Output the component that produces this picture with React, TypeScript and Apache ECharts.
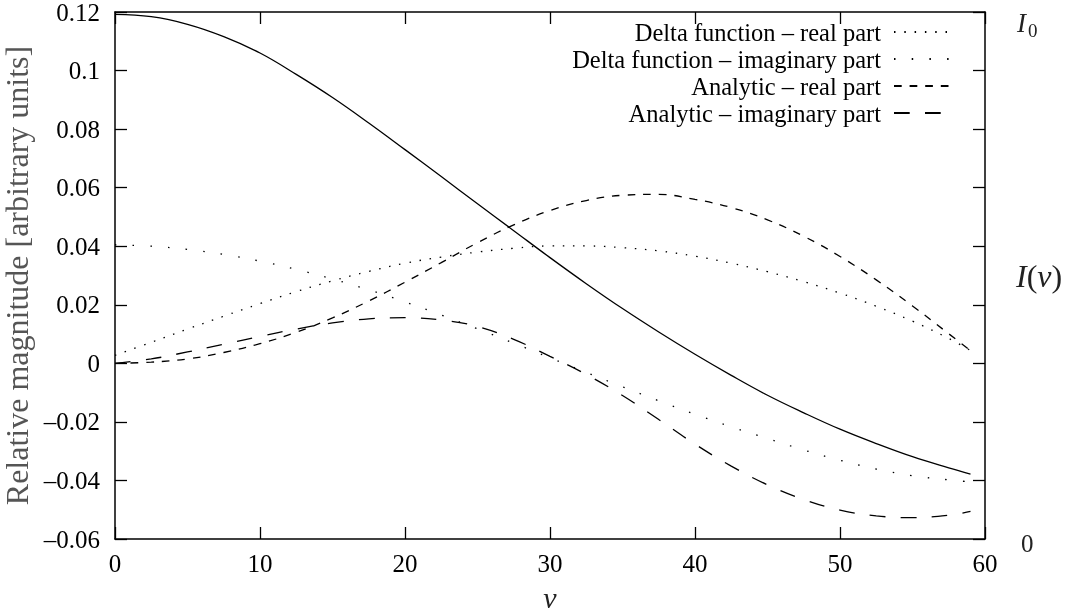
import React, { useEffect, useRef } from "react";
import * as echarts from "echarts";

// ν sample positions
const NU = [0, 2.5, 5, 7.5, 10, 12.5, 15, 17.5, 20, 22.5, 25, 27.5, 30, 32.5, 35, 37.5, 40, 42.5, 45, 47.5, 50, 52.5, 55, 57.5, 59];

// I(ν) – solid curve (drawn on left scale)
const intensity = [0.1192, 0.1184, 0.1158, 0.1116, 0.106, 0.0987, 0.0908, 0.0821, 0.073, 0.0638, 0.0545, 0.0453, 0.0361, 0.0272, 0.0187, 0.0107, 0.0031, -0.0041, -0.0109, -0.0169, -0.0225, -0.0274, -0.0319, -0.0357, -0.0378];

const deltaReal = [0.0027, 0.0072, 0.0117, 0.0161, 0.0204, 0.0245, 0.0282, 0.0314, 0.0342, 0.0363, 0.038, 0.0393, 0.0401, 0.0401, 0.0395, 0.0384, 0.0366, 0.0342, 0.0313, 0.0279, 0.024, 0.0195, 0.0144, 0.0085, 0.0044];

const deltaImag = [0.0405, 0.04, 0.0389, 0.0372, 0.0349, 0.0321, 0.0288, 0.0251, 0.021, 0.0165, 0.0118, 0.0069, 0.0019, -0.0031, -0.008, -0.0128, -0.0174, -0.0217, -0.0257, -0.0296, -0.0331, -0.0361, -0.0384, -0.0398, -0.0405];

const analyticReal = [0, 0.0004, 0.0015, 0.0037, 0.0067, 0.0106, 0.0155, 0.0213, 0.0277, 0.0344, 0.0412, 0.0473, 0.0522, 0.0556, 0.0574, 0.0577, 0.056, 0.0532, 0.049, 0.0434, 0.0365, 0.0285, 0.0196, 0.0101, 0.0043];

const analyticImag = [0, 0.0015, 0.0039, 0.0065, 0.0092, 0.0117, 0.0138, 0.0152, 0.0156, 0.0148, 0.0126, 0.0082, 0.0024, -0.0038, -0.011, -0.0192, -0.0276, -0.0351, -0.0415, -0.0465, -0.0501, -0.0521, -0.0527, -0.0519, -0.0506];

const SERIES_NAMES = [
  "Delta function – real part",
  "Delta function – imaginary part",
  "Analytic – real part",
  "Analytic – imaginary part",
];

const X_TICKS = { min: 0, max: 60, interval: 10 };
const Y_TICKS = { min: -0.06, max: 0.12, interval: 0.02 };

const FONT = "Liberation Serif";

function fmtY(v: number): string {
  const r = Math.round(v * 1000) / 1000;
  if (Math.abs(r) < 1e-9) return "0";
  const s = String(Number(r.toFixed(2)));
  return s.replace("-", "–");
}

export default function App() {
  const ref = useRef<HTMLDivElement>(null);

  useEffect(() => {
    if (!ref.current) return;
    const chart = echarts.init(ref.current, null, { renderer: "svg" });

    const pairs = (arr: number[]) => NU.map((x, i) => [x, arr[i]]);
    const axisLine = { show: true, onZero: false, lineStyle: { color: "#000", width: 1.5 } };
    const axisTick = { show: true, inside: true, length: 12, lineStyle: { color: "#000", width: 1.3 } };

    const lineSeries = (name: string, data: number[], type: any, width = 1.3) => ({
      type: "line",
      name,
      data: pairs(data),
      smooth: 0.4,
      symbol: "none",
      xAxisIndex: 0,
      yAxisIndex: 0,
      itemStyle: { color: "#000" },
      lineStyle: { color: "#000", width, type, cap: "butt" },
      emphasis: { disabled: true },
      silent: true,
    });

    chart.setOption({
      animation: false,
      textStyle: { fontFamily: FONT },
      grid: { left: 115, right: 86, top: 12, bottom: 73, containLabel: false, outerBoundsMode: "none" },
      legend: {
        orient: "vertical",
        right: 120,
        top: 18.5,
        align: "right",
        padding: 0,
        itemWidth: 56,
        itemHeight: 14,
        itemGap: 0,
        selectedMode: false,
        data: SERIES_NAMES,
        itemStyle: { color: "transparent", borderColor: "transparent", borderWidth: 0, opacity: 0 },
        textStyle: {
          fontFamily: FONT,
          fontSize: 24.5,
          color: "#000",
          lineHeight: 27,
          padding: [0, 8, 0, 0],
        },
      },
      xAxis: [
        {
          type: "value",
          position: "bottom",
          ...X_TICKS,
          name: "ν",
          nameLocation: "middle",
          nameGap: 43,
          nameTextStyle: { fontFamily: FONT, fontSize: 30, fontStyle: "italic", color: "#222" },
          axisLine,
          axisTick,
          axisLabel: { fontFamily: FONT, fontSize: 25, color: "#000", margin: 12 },
          splitLine: { show: false },
        },
        {
          type: "value",
          position: "top",
          ...X_TICKS,
          axisLine,
          axisTick,
          axisLabel: { show: false },
          splitLine: { show: false },
        },
      ],
      yAxis: [
        {
          type: "value",
          position: "left",
          ...Y_TICKS,
          name: "Relative magnitude [arbitrary units]",
          nameLocation: "middle",
          nameRotate: 90,
          nameGap: 67,
          nameTextStyle: { fontFamily: FONT, fontSize: 32, color: "#555" },
          axisLine,
          axisTick,
          axisLabel: { fontFamily: FONT, fontSize: 25, color: "#000", margin: 15, formatter: fmtY },
          splitLine: { show: false },
        },
        {
          type: "value",
          position: "right",
          ...Y_TICKS,
          axisLine,
          axisTick,
          axisLabel: { show: false },
          splitLine: { show: false },
        },
      ],
      series: [
        { ...lineSeries("I(ν)", intensity, "solid"), legendHoverLink: false },
        lineSeries(SERIES_NAMES[0], deltaReal, [1.5, 8.8]),
        lineSeries(SERIES_NAMES[1], deltaImag, [1.5, 16.2]),
        lineSeries(SERIES_NAMES[2], analyticReal, [7.7, 7.9]),
        lineSeries(SERIES_NAMES[3], analyticImag, [15.7, 15.3]),
      ],
      graphic: [
        {
          type: "text",
          x: 1017,
          y: 23,
          silent: true,
          style: { text: "I", fontFamily: FONT, fontSize: 27, fontStyle: "italic", fill: "#222", align: "left", verticalAlign: "middle" },
        },
        {
          type: "text",
          x: 1028,
          y: 30,
          silent: true,
          style: { text: "0", fontFamily: FONT, fontSize: 19, fill: "#222", align: "left", verticalAlign: "middle" },
        },
        {
          type: "text",
          x: 1016,
          y: 276,
          silent: true,
          style: {
            text: "{i|I}({i|ν})",
            fontFamily: FONT,
            fontSize: 32,
            fill: "#222",
            align: "left",
            verticalAlign: "middle",
            rich: { i: { fontFamily: FONT, fontSize: 32, fontStyle: "italic", fill: "#222" } },
          },
        },
        {
          type: "text",
          x: 1021,
          y: 543,
          silent: true,
          style: { text: "0", fontFamily: FONT, fontSize: 25, fill: "#222", align: "left", verticalAlign: "middle" },
        },
      ],
    });

    return () => chart.dispose();
  }, []);

  return <div ref={ref} style={{ position: "fixed", left: 0, top: 0, width: 1071, height: 612 }} />;
}
